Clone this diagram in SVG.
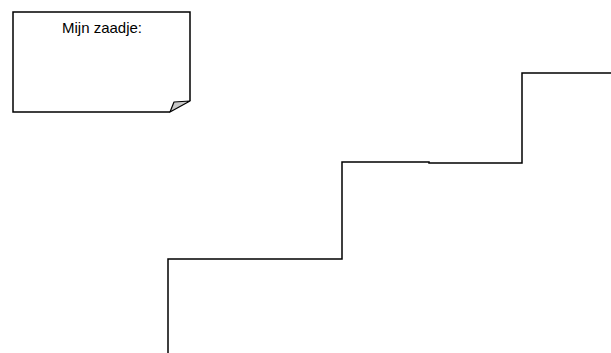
<svg xmlns="http://www.w3.org/2000/svg" width="611" height="353" viewBox="0 0 611 353">
<style>
.ln{fill:none;stroke:#000;stroke-width:1.5;stroke-linejoin:miter}
.t{font-family:"Liberation Sans",Arial,sans-serif;font-size:15px;fill:#000}
</style>
<rect width="611" height="353" fill="#fff"/>
<g id="note">
<path class="ln" d="M170,112 L13,112 L13,12 L190,12 L190,101" fill="#fff"/>
<path d="M170,112 L174,102 L190,101 Z" fill="#c8c8c8" stroke="#000" stroke-width="1.2" stroke-linejoin="round"/>
<text class="t" x="102" y="33" text-anchor="middle">Mijn zaadje:</text>
</g>
<g id="stairs">
<path class="ln" d="M168,353 L168,259 L342,259 L342,162 L429,162 L429,163 L522,163 L522,73 L611,73"/>
</g>
</svg>
